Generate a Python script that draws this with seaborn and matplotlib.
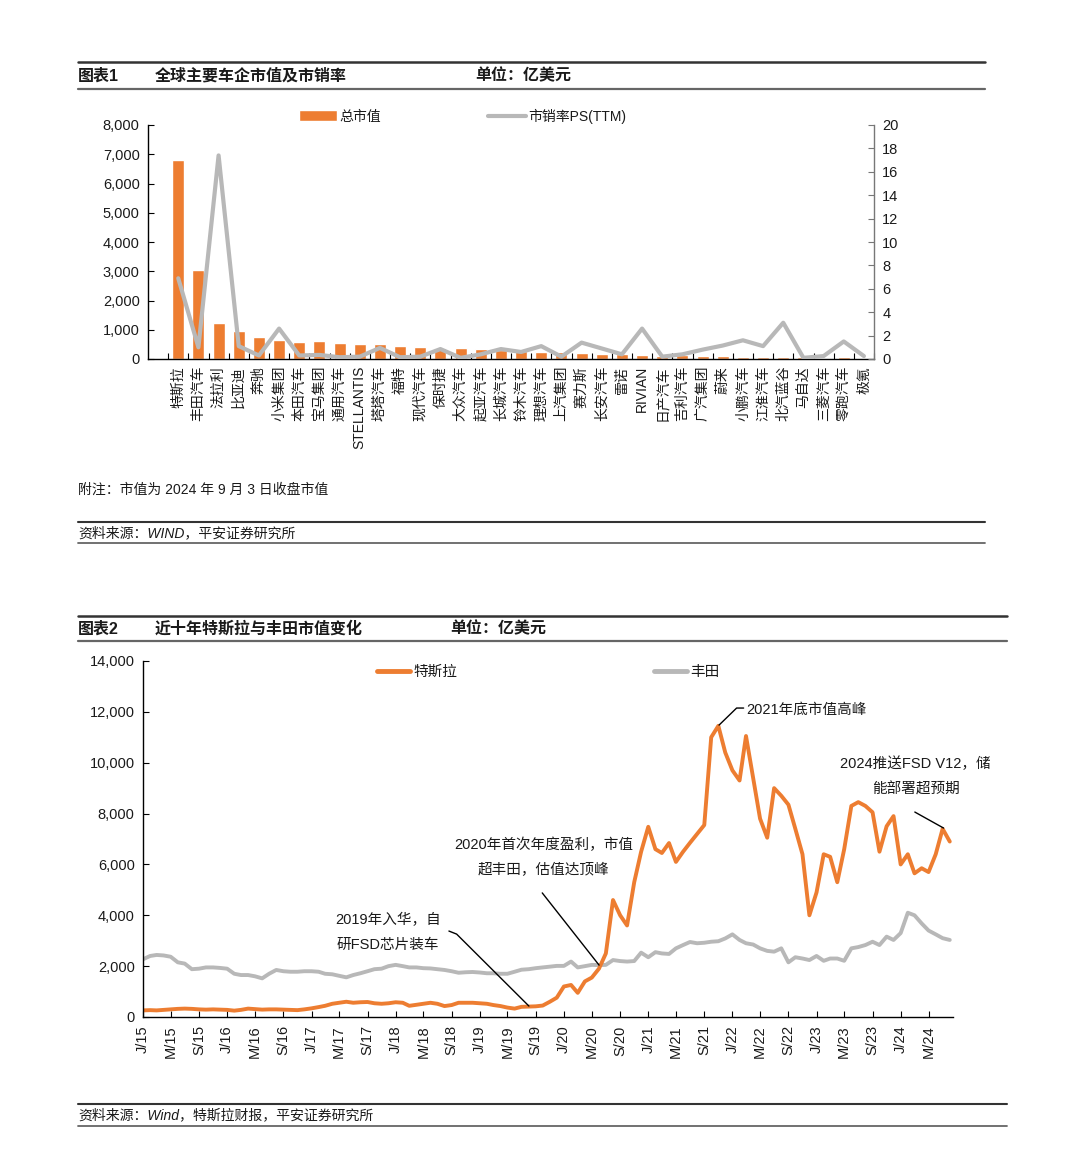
import matplotlib
matplotlib.use('Agg')
import matplotlib.pyplot as plt
import matplotlib.dates as mdates
from matplotlib.lines import Line2D
from matplotlib.patches import Patch
from matplotlib.ticker import MultipleLocator, FuncFormatter
import seaborn as sns
import pandas as pd
import numpy as np

# ---- 图表1 数据：全球主要车企总市值(亿美元)与市销率 ----
companies = ['特斯拉', '丰田汽车', '法拉利', '比亚迪', '奔驰', '小米集团', '本田汽车',
             '宝马集团', '通用汽车', 'STELLANTIS', '塔塔汽车', '福特', '现代汽车',
             '保时捷', '大众汽车', '起亚汽车', '长城汽车', '铃木汽车', '理想汽车',
             '上汽集团', '赛力斯', '长安汽车', '雷诺', 'RIVIAN', '日产汽车', '吉利汽车',
             '广汽集团', '蔚来', '小鹏汽车', '江淮汽车', '北汽蓝谷', '马自达', '三菱汽车',
             '零跑汽车', '极氪']
market_cap = [6800, 3030, 1220, 970, 740, 650, 580, 600, 540, 500, 500, 460, 410,
              370, 360, 330, 300, 280, 240, 230, 200, 180, 160, 150, 110, 130,
              100, 90, 80, 80, 60, 60, 50, 60, 50]
ps_ttm = [6.9, 1.0, 17.4, 1.1, 0.3, 2.6, 0.3, 0.35, 0.15, 0.2, 0.95, 0.15, 0.2,
          0.85, 0.1, 0.4, 0.85, 0.6, 1.1, 0.2, 1.4, 0.9, 0.4, 2.6, 0.2, 0.4,
          0.8, 1.15, 1.6, 1.1, 3.1, 0.1, 0.25, 1.5, 0.25]

# ---- 图表2 数据：特斯拉与丰田月度市值(亿美元)，2015-01 起 ----
series_start = '2015-01-01'
tesla = [260, 270, 260, 280, 300, 320, 330, 320, 300, 290, 300, 290,
         280, 250, 280, 330, 310, 290, 300, 300, 290, 280, 270, 300,
         340, 390, 440, 520, 560, 600, 560, 580, 590, 540, 520, 540,
         580, 560, 440, 480, 520, 560, 520, 430, 470, 560, 560, 560,
         540, 520, 470, 430, 370, 330, 400, 410, 420, 450, 600, 760,
         1200, 1260, 950, 1400, 1550, 1900, 2500, 4600, 4000, 3600, 5300, 6500,
         7480, 6600, 6450, 6840, 6100, 6500, 6850, 7200, 7550, 11000, 11450, 10400,
         9700, 9300, 11050, 9400, 7800, 7050, 9000, 8700, 8350, 7400, 6400, 4000,
         4900, 6400, 6300, 5300, 6600, 8300, 8450, 8300, 8050, 6500, 7500, 7900,
         6000, 6400, 5650, 5850, 5700, 6400, 7400, 6900]
toyota = [2270, 2400, 2440, 2420, 2370, 2150, 2100, 1880, 1900, 1950, 1950, 1930,
          1900, 1700, 1650, 1650, 1600, 1520, 1700, 1850, 1800, 1780, 1780, 1800,
          1800, 1780, 1700, 1680, 1620, 1560, 1650, 1720, 1800, 1880, 1900, 2000,
          2050, 2000, 1950, 1950, 1920, 1910, 1880, 1850, 1800, 1740, 1760, 1770,
          1750, 1720, 1720, 1700, 1700, 1780, 1860, 1880, 1920, 1950, 1980, 2010,
          2010, 2180, 1950, 2000, 2050, 2040, 2050, 2240, 2200, 2180, 2200, 2530,
          2350, 2550, 2500, 2480, 2700, 2830, 2950, 2900, 2920, 2960, 2980, 3090,
          3250, 3030, 2900, 2850, 2700, 2600, 2570, 2700, 2150, 2350, 2300, 2240,
          2400, 2210, 2300, 2300, 2210, 2700, 2750, 2830, 2960, 2830, 3160, 3030,
          3300, 4100, 4000, 3680, 3400, 3250, 3100, 3030]

ORANGE = '#ED7D31'
GRAY = '#B8B8B8'
TXT = '#1a1a1a'

sns.set_theme(style='white')
plt.rcParams['font.family'] = ['Liberation Sans', 'Noto Sans CJK SC']
plt.rcParams['axes.unicode_minus'] = False

fig = plt.figure(figsize=(10.8, 11.7), dpi=100)

X0 = 78 / 1080


def hline(y, x1, color, lw):
    fig.add_artist(Line2D([X0, x1], [y, y], color=color, lw=lw))


def header(y_top, y_text, y_bot, x1, num, title, unit_x):
    hline(y_top, x1, '#333333', 1.8)
    hline(y_bot, x1, '#666666', 1.6)
    fig.text(X0, y_text, num, fontsize=11.5, fontweight='bold', color=TXT, va='center')
    fig.text(155 / 1080, y_text, title, fontsize=11.5, fontweight='bold', color=TXT, va='center')
    fig.text(unit_x, y_text, '单位：亿美元', fontsize=11.5, fontweight='bold', color=TXT, va='center')


def thousands(v, pos):
    return f'{int(v):,}'


# ================= 图表1 =================
header(1 - 62 / 1170, 1 - 76 / 1170, 1 - 89 / 1170, 985 / 1080,
       '图表1', '全球主要车企市值及市销率', 475 / 1080)

df1 = pd.DataFrame({'company': companies, 'cap': market_cap, 'ps': ps_ttm})
n = len(companies)

ax1 = fig.add_axes([148 / 1080, 1 - 359 / 1170, 726 / 1080, 234 / 1170])
sns.barplot(data=df1, x='company', y='cap', color=ORANGE, saturation=1,
            width=0.6, ax=ax1)
ax1.set_ylim(0, 8000)
ax1.yaxis.set_major_locator(MultipleLocator(1000))
ax1.yaxis.set_major_formatter(FuncFormatter(thousands))
ax1.set_xlabel('')
ax1.set_ylabel('')

ax2 = ax1.twinx()
sns.lineplot(x=np.arange(n), y=df1['ps'], color=GRAY, lw=3, ax=ax2)
ax2.set_ylim(0, 20)
ax2.yaxis.set_major_locator(MultipleLocator(2))
ax2.set_ylabel('')

ax1.set_xlim(-1.5, n - 0.5)
ax1.set_xticks(np.arange(n))
ax1.set_xticklabels(companies)
ax1.set_xticks(np.arange(-0.5, n), minor=True)
ax1.tick_params(axis='x', which='major', length=0, pad=5, labelsize=10,
                labelrotation=90, labelcolor=TXT)
ax1.tick_params(axis='x', which='minor', length=4, width=0.8, direction='in',
                color='black', bottom=True)
ax1.tick_params(axis='y', length=4, width=0.8, direction='in', color='black',
                left=True, labelsize=10.5, labelcolor=TXT, pad=6)
ax2.tick_params(axis='y', length=4, width=0.8, direction='in', color='#777777',
                right=True, labelsize=10.5, labelcolor=TXT, pad=6)

for s in ['top', 'right']:
    ax1.spines[s].set_visible(False)
for s in ['top', 'left', 'bottom']:
    ax2.spines[s].set_visible(False)
ax1.spines['left'].set_color('black')
ax1.spines['bottom'].set_color('black')
ax1.spines['left'].set_linewidth(1)
ax1.spines['bottom'].set_linewidth(1)
ax2.spines['right'].set_color('#777777')
ax2.spines['right'].set_linewidth(1)

fig.legend(handles=[Patch(facecolor=ORANGE, label='总市值'),
                    Line2D([], [], color=GRAY, lw=3, label='市销率PS(TTM)')],
           loc='center', bbox_to_anchor=(463 / 1080, 1 - 116 / 1170), ncol=2,
           frameon=False, fontsize=10, handlelength=2.7, handleheight=0.8,
           handletextpad=0.2, columnspacing=7.7, labelcolor=TXT)

fig.text(X0, 1 - 490 / 1170, '附注：市值为 2024 年 9 月 3 日收盘市值',
         fontsize=10, color=TXT, va='center')
hline(1 - 522 / 1170, 985 / 1080, '#333333', 1.5)
fig.text(X0, 1 - 533 / 1170, '资料来源：WIND，平安证券研究所', fontsize=10,
         style='italic', color=TXT, va='center')
hline(1 - 543 / 1170, 985 / 1080, '#666666', 1.3)

# ================= 图表2 =================
header(1 - 616 / 1170, 1 - 629 / 1170, 1 - 641 / 1170, 1007 / 1080,
       '图表2', '近十年特斯拉与丰田市值变化', 450 / 1080)

dates = pd.date_range(series_start, periods=len(tesla), freq='MS')
df2 = pd.DataFrame({'date': dates, '丰田': toyota, '特斯拉': tesla})
df2 = df2.melt(id_vars='date', var_name='company', value_name='cap')

ax3 = fig.add_axes([143 / 1080, 1 - 1017 / 1170, 810 / 1080, 356 / 1170])
sns.lineplot(data=df2, x='date', y='cap', hue='company',
             hue_order=['丰田', '特斯拉'],
             palette={'丰田': GRAY, '特斯拉': ORANGE}, lw=2.8, ax=ax3,
             legend=False)
ax3.set_xlim(pd.Timestamp('2015-01-01'), pd.Timestamp('2024-08-15'))
ax3.set_ylim(0, 14000)
ax3.yaxis.set_major_locator(MultipleLocator(2000))
ax3.yaxis.set_major_formatter(FuncFormatter(thousands))
ax3.set_xlabel('')
ax3.set_ylabel('')

tick_dates = pd.date_range('2015-01-01', '2024-05-01', freq='4MS')
ax3.set_xticks(tick_dates)
ax3.set_xticklabels([f"{d.strftime('%b')[0]}/{d.strftime('%y')}" for d in tick_dates])
ax3.tick_params(axis='x', length=4, width=0.8, direction='in', color='black',
                bottom=True, labelsize=10.5, labelrotation=90, labelcolor=TXT, pad=6)
ax3.tick_params(axis='y', length=4, width=0.8, direction='in', color='black',
                left=True, labelsize=10.5, labelcolor=TXT, pad=6)
for s in ['top', 'right']:
    ax3.spines[s].set_visible(False)
for s in ['left', 'bottom']:
    ax3.spines[s].set_color('black')
    ax3.spines[s].set_linewidth(1)

fig.legend(handles=[Line2D([], [], color=ORANGE, lw=3.5, label='特斯拉'),
                    Line2D([], [], color=GRAY, lw=3.5, label='丰田')],
           loc='center', bbox_to_anchor=(548 / 1080, 1 - 672 / 1170), ncol=2,
           frameon=False, fontsize=10.5, handlelength=2.3, handletextpad=0.2,
           columnspacing=13.5, labelcolor=TXT)

t0 = mdates.date2num(pd.Timestamp(series_start))


def mx(m):
    # 月序号 -> 日期坐标
    return t0 + m * 30.44


def leader(points):
    xs = [mx(p[0]) for p in points]
    ys = [p[1] for p in points]
    ax3.add_artist(Line2D(xs, ys, color='black', lw=1))


note_kw = dict(fontsize=10.5, color=TXT, ha='center', va='center', linespacing=2.0)

ax3.text(mx(34.9), 3340, '2019年入华，自\n研FSD芯片装车', **note_kw)
leader([(43.6, 3380), (44.7, 3260), (55.0, 430)])

ax3.text(mx(57.1), 6290, '2020年首次年度盈利，市值\n超丰田，估值达顶峰', **note_kw)
leader([(56.9, 4880), (65.0, 2040)])

ax3.text(mx(86.0), 12070, '2021年底市值高峰', fontsize=10.5, color=TXT,
         ha='left', va='center')
leader([(85.6, 12150), (84.6, 12150), (82.1, 11480)])

ax3.text(mx(110.1), 9440, '2024推送FSD V12，储\n能部署超预期', **note_kw)
leader([(110.0, 8060), (114.1, 7430)])

hline(1 - 1104 / 1170, 1007 / 1080, '#333333', 1.5)
fig.text(X0, 1 - 1115 / 1170, '资料来源：Wind，特斯拉财报，平安证券研究所',
         fontsize=10, style='italic', color=TXT, va='center')
hline(1 - 1126 / 1170, 1007 / 1080, '#666666', 1.3)

fig.savefig('out.png', dpi=100, facecolor='white')
